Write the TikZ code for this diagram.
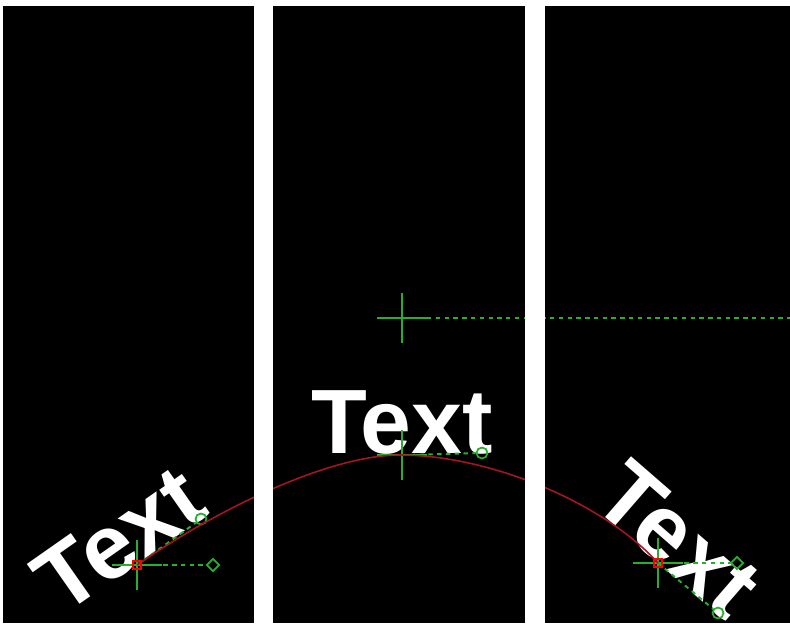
\documentclass[tikz,border=0pt]{standalone}
\usepackage{fontspec}
\setmainfont{Liberation Sans}
\usetikzlibrary{shapes.geometric}
\definecolor{hdlgreen}{RGB}{40,175,45}
\definecolor{pathred}{RGB}{165,20,35}
\tikzset{
  pane/.style={fill=black, draw=none},
  gap/.style={fill=white, draw=none},
  word/.style={text=white, font=\bfseries\fontsize{52}{52}\selectfont, anchor=base, inner sep=0pt},
  tpath/.style={draw=pathred, line width=0.9pt},
  hair/.style={draw=hdlgreen, line width=1.1pt},
  guide/.style={draw=hdlgreen, line width=1.1pt, dash pattern=on 2.5pt off 2.5pt},
  hdiam/.style={draw=hdlgreen, diamond, line width=1pt, minimum size=0.26cm, inner sep=0pt},
  hcirc/.style={draw=hdlgreen, circle, line width=1pt, minimum size=0.22cm, inner sep=0pt},
  hsq/.style={draw=red, rectangle, line width=0.9pt, minimum size=0.15cm, inner sep=0pt}
}

\begin{document}
\begin{tikzpicture}[x=0.02cm, y=-0.02cm]
  \useasboundingbox (0,0) rectangle (790,623);
  \fill[white] (0,0) rectangle (790,623);
  \fill[pane] (3,6) rectangle (790,623);
  % anchor points of the three text positions
  \coordinate (a1) at (137,565);
  \coordinate (a2) at (402,455);
  \coordinate (a3) at (658,563);
  \coordinate (top) at (400,455);
  \coordinate (c2) at (402,318);
  \coordinate (far) at (790,318);
  % text on the path
  \node[word, rotate=35] (w1) at (a1) {Text};
  \node[word] (w2) at ([yshift=0.04cm]a2) {Text};
  \node[word, rotate=-41] (w3) at (a3) {Text};
  % handles
  \node[hcirc] (e1) at (201,519) {};
  \node[hdiam] (d1) at (213,565) {};
  \node[hcirc] (e2) at (482,453) {};
  \node[hcirc] (e3) at (718,613) {};
  \node[hdiam] (d3) at (737,563) {};
  \foreach \p in {a1,a2,a3,c2}
    \draw[hair] (\p) ++(-25,0) -- ++(50,0) (\p) ++(0,-25) -- ++(0,50);
  \draw[guide] (a1) -- (d1);
  \draw[guide] (a1) -- (e1);
  \draw[guide] (a2) -- (e2);
  \draw[guide] (a3) -- (d3);
  \draw[guide] (a3) -- (e3);
  \draw[guide] (c2) ++(25,0) -- (far);
  % the path
  \draw[tpath] (a1) .. controls (219,508) and (330,455) .. (top)
                    .. controls (490,455) and (604,503) .. (a3);
  \node[hsq] (s1) at (a1) {};
  \node[hsq] (s3) at (a3) {};
  % gaps between the screenshots
  \fill[gap] (254,0) rectangle (273,623);
  \fill[gap] (525,0) rectangle (545,623);
\end{tikzpicture}
\end{document}
